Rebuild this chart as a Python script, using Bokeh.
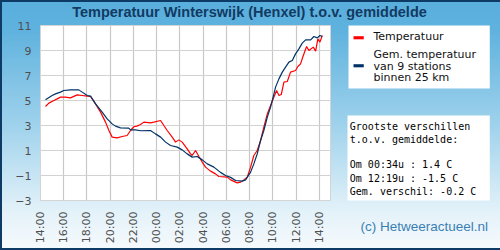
from bokeh.plotting import figure
from bokeh.models import Label, FixedTicker, Range1d
from bokeh.embed import file_html
from bokeh.resources import INLINE
import math

# time = hours after 14:00 on the first day
temp_hours = [0.43, 0.72, 1.15, 1.44, 1.72, 2.15, 2.58, 3.16, 3.59, 4.02, 4.31, 4.74, 5.17, 5.6, 5.89,
              6.17, 6.6, 7.03, 7.46, 7.75, 8.04, 8.3, 8.61, 8.9, 9.47, 9.76, 10.34, 10.62, 10.91, 11.34,
              11.63, 11.91, 12.2, 12.63, 12.92, 13.06, 13.35, 13.64, 13.93, 14.21, 14.64, 15.07, 15.36,
              16.08, 16.37, 16.94, 17.23, 17.51, 17.8, 18.09, 18.37, 18.66, 18.95, 19.23, 19.53, 19.81,
              20.1, 20.33, 20.53, 20.73, 20.96, 21.25, 21.53, 21.96, 22.16, 22.39, 22.63, 22.91, 23.11,
              23.49, 23.69, 23.88, 24.06, 24.26]
temp_values = [4.52, 4.79, 5.0, 5.13, 5.27, 5.27, 5.21, 5.45, 5.4, 5.35, 5.32, 4.73, 4.07, 3.27, 2.6,
               2.07, 2.01, 2.12, 2.2, 2.6, 2.9, 2.95, 3.08, 3.27, 3.21, 3.27, 3.4, 3.0, 2.6, 2.07,
               1.67, 1.85, 1.67, 1.13, 0.73, 0.6, 1.0, 0.52, 0.07, -0.33, -0.65, -0.87, -1.08,
               -1.13, -1.35, -1.59, -1.53, -1.35, -1.13, -0.33, 0.6, 1.0, 1.8, 2.87, 3.93, 4.6,
               5.27, 5.8, 5.4, 5.48, 6.47, 6.52, 7.27, 7.4, 7.72, 7.93, 8.6, 9.32, 9.0,
               9.27, 8.95, 9.93, 9.67, 10.2]

avg_hours = [0.43, 1.0, 1.29, 1.72, 2.0, 2.58, 3.3, 3.59, 4.02, 4.31, 4.74, 5.31, 5.74, 6.17, 6.46,
             6.89, 7.6, 7.75, 8.18, 8.61, 9.47, 9.9, 10.34, 10.77, 11.2, 11.77, 12.2, 12.63, 13.06,
             13.49, 13.93, 14.36, 14.93, 15.5, 15.93, 16.37, 16.8, 17.37, 17.66, 18.09, 18.37, 18.66,
             18.95, 19.23, 19.53, 19.81, 20.1, 20.24, 20.53, 20.82, 21.1, 21.39, 21.68, 21.96, 22.25,
             22.54, 22.83, 23.26, 23.54, 23.83, 24.06, 24.26]
avg_values = [5.06, 5.4, 5.53, 5.67, 5.8, 5.85, 5.85, 5.67, 5.4, 5.35, 4.73, 4.07, 3.53, 3.13, 2.95,
              2.81, 2.79, 2.65, 2.65, 2.58, 2.6, 2.33, 2.07, 1.67, 1.4, 1.27, 1.05, 0.73, 0.47,
              0.52, 0.25, -0.07, -0.33, -0.75, -1.0, -1.15, -1.4, -1.45, -1.35, -0.73, -0.07, 0.73,
              1.8, 2.6, 3.67, 4.47, 5.53, 6.07, 6.73, 7.27, 7.67, 8.07, 8.2, 8.73, 9.13,
              9.59, 9.85, 9.85, 10.12, 10.01, 10.2, 10.12]

x_tick_hours = [0, 2, 4, 6, 8, 10, 12, 14, 16, 18, 20, 22, 24]
x_tick_labels = ["14:00", "16:00", "18:00", "20:00", "22:00", "00:00", "02:00",
                 "04:00", "06:00", "08:00", "10:00", "12:00", "14:00"]
y_ticks = [-3, -1, 1, 3, 5, 7, 9, 11]

title_text = "Temperatuur Winterswijk (Henxel) t.o.v. gemiddelde"
legend_labels = ["Temperatuur", "Gem. temperatuur", "van 9 stations", "binnen 25 km"]
stats_lines = ["Grootste verschillen", "t.o.v. gemiddelde:", "",
               "Om 00:34u : 1.4 C", "Om 12:19u : -1.5 C", "Gem. verschil: -0.2 C"]
credit = "(c) Hetweeractueel.nl"

RED = "#ff0000"
NAVY = "#003366"

X0, X1, Y0, Y1 = 0, 24.97, -3, 11
FL, FT, FW, FH = 40, 25, 290, 175   # frame left/top/width/height in page pixels

p = figure(frame_width=FW, frame_height=FH, output_backend="svg", toolbar_location=None,
           x_range=Range1d(X0, X1), y_range=Range1d(Y0, Y1),
           min_border_left=FL, min_border_right=500 - FL - FW, min_border_top=FT,
           min_border_bottom=250 - FT - FH)

p.background_fill_color = "white"
p.border_fill_color = None
p.outline_line_color = "#d4d4d4"
p.styles = {
    "background": "linear-gradient(to bottom, #58aedc 0%, #5fb2de 12%, #9fd2ec 50%, #e4f2f9 85%, #f6fafd 100%)",
    "outline": "2px solid #0e3a66",
    "outline-offset": "-2px",
}

p.line(temp_hours, temp_values, line_color=RED, line_width=1.2)
p.line(avg_hours, avg_values, line_color=NAVY, line_width=1.2)

for ax in (p.xaxis[0], p.yaxis[0]):
    ax.axis_line_color = None
    ax.major_tick_line_color = None
    ax.minor_tick_line_color = None
    ax.major_tick_out = 0
    ax.major_tick_in = 0
    ax.minor_tick_out = 0
    ax.major_label_text_font = "DejaVu Sans"
    ax.major_label_text_font_size = "11px"
    ax.major_label_text_color = "#505050"

p.xaxis.ticker = FixedTicker(ticks=x_tick_hours)
p.xaxis.major_label_overrides = {h: lab for h, lab in zip(x_tick_hours, x_tick_labels)}
p.xaxis.major_label_orientation = math.pi / 2
p.xaxis.major_label_standoff = 11
p.yaxis.ticker = FixedTicker(ticks=y_ticks)
p.yaxis.major_label_standoff = 9

p.xgrid.ticker = FixedTicker(ticks=x_tick_hours)
p.ygrid.ticker = FixedTicker(ticks=y_ticks)
p.xgrid.grid_line_color = "#c8c8c8"
p.ygrid.grid_line_color = "#d2d2d2"
p.xgrid.grid_line_width = 1.2
p.ygrid.grid_line_width = 1.2

# page pixel -> data coordinate (annotations sit in side panels, mapped by the frame's scales)
def dx(px):
    return X0 + (px - FL) * (X1 - X0) / FW

def dy(py):
    return Y1 - (py - FT) * (Y1 - Y0) / FH

def lab(side, px, py, text, **kw):
    p.add_layout(Label(x=dx(px), y=dy(py), text=text, **kw), side)

def box(side, l, t, w, h, color):
    # a filled rectangle: a tiny blank label whose padding spans the wanted size
    p.add_layout(Label(x=dx(l), y=dy(t), text=" ", text_font_size="1px", text_align="left",
                       text_baseline="top", background_fill_color=color, background_fill_alpha=1,
                       padding=dict(left=0, top=0, right=w, bottom=h)), side)

lab("above", 249, 11, title_text, text_font="Liberation Sans", text_font_style="bold",
    text_font_size="14.5px", text_color="#123a62", text_align="center", text_baseline="middle")

# legend box
box("right", 348, 25, 141, 62, "white")
box("right", 353, 35.7, 10, 2, RED)
box("right", 353, 63.7, 10, 2, NAVY)
for text, py in zip(legend_labels, [36, 54.3, 65.5, 76.7]):
    lab("right", 373, py, text, text_font="DejaVu Sans", text_font_size="11px", text_color="#111111",
        text_baseline="middle")

# statistics box
box("right", 347, 115, 142, 84, "white")
for text, py in zip(stats_lines, [126, 139.3, 152, 164.3, 177.7, 190.7]):
    if text:
        lab("right", 349.3, py, text, text_font="DejaVu Sans Mono", text_font_size="10px",
            text_color="#000000", text_baseline="middle")

lab("right", 360, 226, credit, text_font="Liberation Sans", text_font_size="13.5px",
    text_color="#3a7fb4", text_baseline="middle")

open("out.html", "w").write(file_html(p, INLINE))
